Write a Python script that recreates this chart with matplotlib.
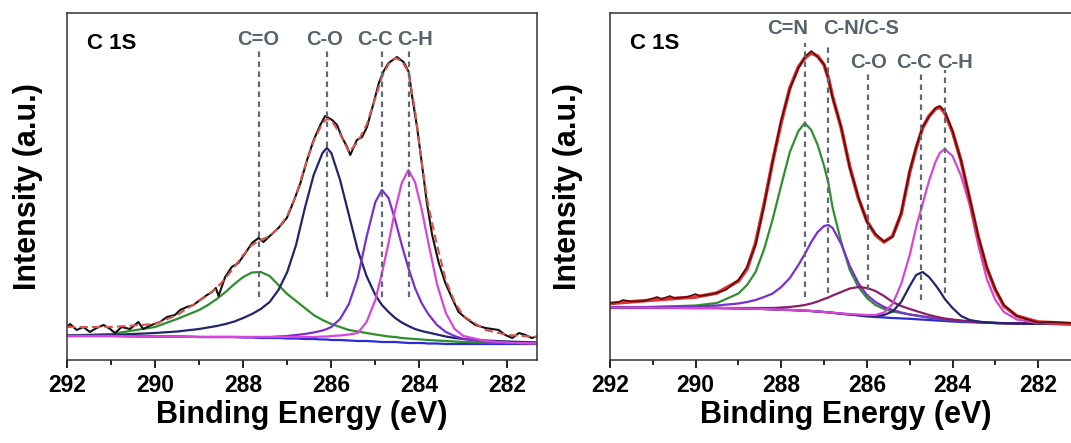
import matplotlib.pyplot as plt

plt.rcParams['font.family'] = ['Liberation Sans', 'DejaVu Sans']
plt.rcParams['font.weight'] = 'bold'

# ---------------- left panel: C 1s, 4 components ----------------
E_L = [292, 291, 290, 289.5, 289.0, 288.8, 288.6, 288.4, 288.2, 288.0, 287.8, 287.6, 287.4, 287.2, 287.0,
       286.8, 286.6, 286.4, 286.2, 286.1, 286.0, 285.8, 285.6, 285.4, 285.2, 285.0, 284.85, 284.7, 284.55,
       284.4, 284.25, 284.1, 283.95, 283.8, 283.6, 283.4, 283.2, 283.0, 282.5, 282.0, 281.3]
bg_L = [24, 24, 23.5, 23.5, 23, 23, 23, 23, 23, 22.5, 22.5, 22, 22, 22, 21.5, 21.5, 21, 21, 20.5, 20.5, 20,
        20, 19.5, 19, 19, 18.5, 18, 18, 18, 17.5, 17, 17, 17, 16.5, 16.5, 16, 16, 16, 16, 16, 16]
co_double_L = [24.5, 26, 33, 41, 50, 55, 61, 68, 76, 83, 87.5, 88, 84, 75, 66, 59, 52, 45, 40, 38, 36, 33, 30,
               28.5, 27, 25.5, 24.5, 23.5, 23, 22, 21.5, 21, 20.5, 20, 19.5, 19, 18.5, 18, 17.5, 17, 16.5]
co_single_L = [24.5, 25, 27, 28.5, 31, 32.5, 34, 36, 38.5, 42, 46, 51, 58, 70, 88, 115, 152, 185, 207, 212,
               207, 180, 145, 110, 84, 65, 55, 48, 42, 37.5, 34, 31, 29, 27.5, 25.5, 23.5, 22, 21, 19.5,
               18.5, 17.5]
cc_L = [24, 24, 23.5, 23.5, 23, 23, 23, 23, 23, 23, 23, 23, 23, 23.5, 24, 25, 26, 27.5, 29.5, 31, 33, 41, 56,
        82, 123, 158, 170, 162, 140, 115, 92, 72, 57, 46, 35, 28, 24, 21, 18.5, 17, 16.5]
ch_L = [24, 24, 23.5, 23.5, 23, 23, 23, 23, 23, 23, 23, 23, 23, 23, 23, 23, 23, 23, 23.5, 23.5, 24, 24.5, 25.5,
        27, 38, 60, 87, 117, 150, 177, 190, 178, 151, 118, 76, 47, 31, 24, 19, 17.5, 16.5]
fit_L = [33, 33, 36, 45, 59, 65, 72, 82, 93, 105, 115, 120, 124, 132, 144, 165, 193, 219, 237, 241, 240, 226,
         208, 218, 235, 262, 283, 296, 302, 299, 288, 250, 198, 155, 115, 80, 58, 44, 30, 25, 23]

E_raw_L = [292.0, 291.93, 291.78, 291.63, 291.48, 291.33, 291.17, 291.02, 290.91, 290.76, 290.57, 290.38,
           290.27, 290.08, 289.89, 289.73, 289.55, 289.43, 289.28, 289.13, 288.98, 288.82, 288.71, 288.62,
           288.56, 288.41, 288.26, 288.11, 287.95, 287.80, 287.65, 287.54, 287.42, 287.20, 287.01, 286.86,
           286.70, 286.55, 286.40, 286.25, 286.14, 285.98, 285.87, 285.76, 285.64, 285.57, 285.42, 285.30,
           285.19, 285.04, 284.92, 284.81, 284.70, 284.51, 284.36, 284.24, 284.17, 284.05, 283.94, 283.83,
           283.71, 283.56, 283.41, 283.26, 283.11, 282.95, 282.73, 282.50, 282.20, 282.05, 281.89, 281.74,
           281.59, 281.45, 281.3]
I_raw_L = [33, 36, 30, 33, 28, 32, 35, 31, 27, 33, 31, 38, 31, 35, 38, 43, 45, 50, 53, 55, 60, 65, 68, 72, 64,
           83, 93, 97, 107, 117, 122, 118, 123, 132, 142, 158, 177, 200, 220, 235, 244, 240, 235, 223, 213,
           205, 220, 223, 233, 257, 277, 289, 297, 303, 298, 288, 265, 232, 195, 157, 125, 97, 77, 62, 48, 42,
           35, 32, 30, 25, 22, 27, 25, 22, 24]

lines_L = [287.65, 286.1, 284.85, 284.23]
labels_L = ['C=O', 'C-O', 'C-C', 'C-H']
label_x_L = [287.65, 286.15, 285.0, 284.1]

# ---------------- right panel: C 1s, 5 components ----------------
E_R = [292, 291, 290, 289.5, 289.0, 288.8, 288.6, 288.4, 288.2, 288.0, 287.8, 287.6, 287.45, 287.3, 287.15,
       287.0, 286.9, 286.8, 286.6, 286.4, 286.2, 286.0, 285.8, 285.6, 285.4, 285.2, 285.0, 284.85, 284.7,
       284.55, 284.4, 284.3, 284.18, 284.0, 283.8, 283.6, 283.4, 283.2, 283.0, 282.8, 282.5, 282.0, 281.0]
bg_R = [52.5, 52.3, 52, 52, 51.7, 51.5, 51.3, 51, 50.7, 50.3, 50, 49.7, 49.3, 49, 48.5, 48, 47.6, 47.2, 46.3,
        45.5, 44.6, 43.5, 43, 42.5, 42, 41.6, 41.2, 40.8, 40.4, 40, 39.6, 39.3, 39, 38.5, 38, 37.8, 37.5,
        37.2, 37, 36.8, 36.5, 36.2, 35.8]
fit_R = [56.5, 60, 63, 67, 79, 91, 117, 156, 199, 238, 272, 293, 302, 307, 304, 295, 282, 263, 232, 193, 162,
         139, 125, 118, 124, 146, 188, 212, 232, 244, 251, 253, 247, 228, 199, 161, 123, 92, 70, 54, 44, 38,
         36]
cn_double_R = [52.5, 53, 54.5, 57, 66.5, 75, 88, 111, 141, 175, 208, 229, 237, 230, 215, 194, 177, 152, 118,
               90, 73, 62, 55, 51, 48.5, 47, 45.5, 44.5, 43.5, 42.5, 41.5, 41, 40.5, 40, 39, 38.5, 38, 37.5,
               37, 37, 36.5, 36.2, 35.8]
cn_cs_R = [52.5, 53, 53.5, 54.5, 56.5, 58, 60, 63, 66.5, 73, 82, 95, 106, 118, 128, 134, 135, 132, 116, 94,
           77, 65, 58, 53, 50, 47.5, 45.5, 44.5, 43.5, 42.5, 41.5, 41, 40.5, 40, 39, 38.5, 38, 37.5, 37,
           36.8, 36.5, 36.2, 35.8]
co_R = [52, 52, 52, 52, 52, 52, 52, 52, 52, 52.5, 53, 54, 55, 56.5, 58.5, 61, 62.5, 64.5, 68, 71.5, 73, 72,
        69, 64, 58, 54, 51, 49, 47, 45, 43.5, 42.5, 41.5, 40.5, 39.5, 38.5, 38, 37.5, 37, 36.8, 36.5, 36.2,
        35.8]
cc_R = [52.5, 52.3, 52, 52, 51.7, 51.5, 51.3, 51, 50.7, 50.3, 50, 49.7, 49.3, 49, 48.5, 48, 47.6, 47.2, 46.3,
        45.5, 44.8, 44.2, 44, 45, 48.5, 58, 74, 85, 88, 83, 75, 69, 61, 52, 44, 40, 38.5, 37.5, 37, 36.8,
        36.5, 36.2, 35.8]
ch_R = [52.5, 52.3, 52, 52, 51.7, 51.5, 51.3, 51, 50.7, 50.3, 50, 49.7, 49.3, 49, 48.5, 48, 47.6, 47.2, 46.5,
        46, 45.5, 45, 45, 47.5, 56, 76, 105, 133, 156, 179, 198, 207, 211, 204, 184, 155, 115, 81, 60, 48,
        40.5, 37, 35.8]

E_raw_R = [292, 291.8, 291.7, 291.5, 291.2, 290.9, 290.8, 290.6, 290.5, 290.2, 290.0, 289.9, 289.6, 289.3,
           289.0, 288.8, 288.6, 288.4, 288.2, 288.0, 287.8, 287.6, 287.45, 287.3, 287.15, 287.0, 286.9,
           286.8, 286.6, 286.4, 286.2, 286.0, 285.8, 285.6, 285.4, 285.2, 285.0, 284.85, 284.7, 284.55,
           284.4, 284.3, 284.18, 284.0, 283.8, 283.6, 283.4, 283.2, 283.0, 282.8, 282.5, 282.2, 282.0,
           281.7, 281.0]
I_raw_R = [57, 58, 60, 58.5, 59, 63, 61, 64, 62, 63, 66, 64, 66, 70, 80, 93, 115, 155, 199, 240, 271, 292,
           303, 309, 303, 296, 281, 262, 233, 192, 163, 138, 126, 118.5, 123, 147, 189, 213, 233, 243, 252,
           254, 249, 229, 199, 162, 124, 93, 71, 55, 44, 40, 37.5, 38, 36.5]

lines_R = [287.45, 286.9, 285.97, 284.74, 284.18]
line_top_R = [317, 317, 290, 290, 290]
line_bot_R = [63, 67, 60, 60, 67]
labels_R = ['C=N', 'C-N/C-S', 'C-O', 'C-C', 'C-H']
label_x_R = [287.86, 286.14, 285.95, 284.9, 283.95]
label_y_R = [332, 332, 298, 298, 298]

GREEN = '#2f8f2f'
NAVY = '#24246e'
PURPLE = '#7a2fd0'
MAGENTA = '#d845d8'
DKMAG = '#8a1f66'
BLUE = '#2a2ad8'
LINEGREY = '#5f6a72'
LABELGREY = '#56626c'
LW = 1.6

fig = plt.figure(figsize=(10.71, 4.43), dpi=100)
ax1 = fig.add_axes([67 / 1071, 83 / 443, 470 / 1071, 347 / 443])
ax2 = fig.add_axes([610 / 1071, 83 / 443, 471 / 1071, 347 / 443])

# left
ax1.plot(E_L, bg_L, color=BLUE, lw=LW)
ax1.plot(E_L, co_double_L, color=GREEN, lw=LW)
ax1.plot(E_L, co_single_L, color=NAVY, lw=LW)
ax1.plot(E_L, cc_L, color=PURPLE, lw=LW)
ax1.plot(E_L, ch_L, color=MAGENTA, lw=LW)
ax1.plot(E_raw_L, I_raw_L, color='#111111', lw=1.5)
ax1.plot(E_L, fit_L, color='#d9544c', lw=1.5, dashes=(4, 2))
ax1.vlines(lines_L, 63, 310, colors=LINEGREY, linestyles=(0, (2.5, 2)), lw=1.6)
for x, t in zip(label_x_L, labels_L):
    ax1.text(x, 321, t, ha='center', va='center', fontsize=14.5, color=LABELGREY, fontweight='bold')
ax1.set_xlim(292, 281.33)

# right
ax2.plot(E_R, bg_R, color=BLUE, lw=LW)
ax2.plot(E_R, cn_double_R, color=GREEN, lw=LW)
ax2.plot(E_R, cn_cs_R, color=PURPLE, lw=LW)
ax2.plot(E_R, co_R, color=DKMAG, lw=LW)
ax2.plot(E_R, cc_R, color=NAVY, lw=LW)
ax2.plot(E_R, ch_R, color=MAGENTA, lw=LW)
ax2.plot(E_R, fit_R, color='#e03030', lw=2.6)
ax2.plot(E_raw_R, I_raw_R, color='#5a0c0c', lw=1.2)
ax2.vlines(lines_R, line_bot_R, line_top_R, colors=LINEGREY, linestyles=(0, (2.5, 2)), lw=1.6)
for x, y, t in zip(label_x_R, label_y_R, labels_R):
    ax2.text(x, y, t, ha='center', va='center', fontsize=14.5, color=LABELGREY, fontweight='bold')
ax2.set_xlim(292, 281.0)

for ax in (ax1, ax2):
    ax.set_ylim(0, 347)
    ax.set_yticks([])
    ax.set_xticks([292, 290, 288, 286, 284, 282])
    ax.set_xticks([291, 289, 287, 285, 283], minor=True)
    ax.tick_params(axis='x', which='major', direction='out', length=6, width=1.2, labelsize=16.5, pad=4)
    ax.tick_params(axis='x', which='minor', direction='out', length=3.5, width=1.2)
    for s in ax.spines.values():
        s.set_color('#333333')
        s.set_linewidth(1.1)
    ax.text(0.043, 0.912, 'C 1S', transform=ax.transAxes, fontsize=16, fontweight='bold', va='center')
    ax.set_xlabel('Binding Energy (eV)', fontsize=22, fontweight='bold')
    ax.set_ylabel('Intensity (a.u.)', fontsize=22, fontweight='bold')
    ax.xaxis.set_label_coords(0.5, -0.115)

ax1.yaxis.set_label_coords(-0.05, 0.5)
ax2.yaxis.set_label_coords(-0.057, 0.5)

fig.savefig('out.png', dpi=100)
